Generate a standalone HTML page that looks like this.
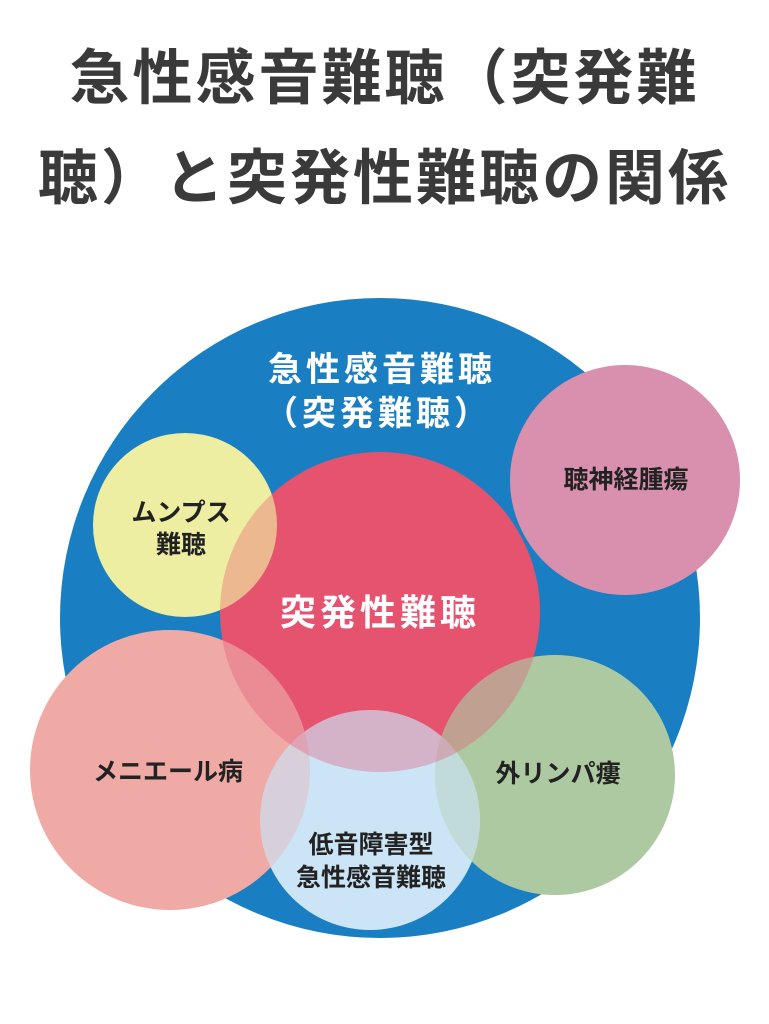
<!DOCTYPE html>
<html><head><meta charset="utf-8"><style>
html,body{margin:0;padding:0;background:#fff;}
body{width:769px;height:1024px;position:relative;overflow:hidden;font-family:"Liberation Sans","Noto Sans CJK JP",sans-serif;}
.t{position:absolute;left:0;width:769px;text-align:center;font-weight:bold;color:#3a3a3a;font-size:60px;letter-spacing:3px;}
</style></head><body>
<div class="t" style="top:30px;">急性感音難聴（突発難</div>
<div class="t" style="top:130px;">聴）と突発性難聴の関係</div>
<svg width="769" height="1024" style="position:absolute;left:0;top:0" font-family="Liberation Sans, Noto Sans CJK JP, sans-serif" font-weight="bold">
<defs>
<clipPath id="lb"><circle cx="370" cy="820" r="110"/></clipPath>
</defs>
<circle cx="380" cy="618" r="320" fill="#1a7fc2"/>
<circle cx="380" cy="612" r="160" fill="#e5536f"/>
<circle cx="185" cy="525" r="92" fill="#eeeea2"/>
<circle cx="625" cy="480" r="115" fill="#d890ae"/>
<circle cx="170" cy="770" r="140" fill="#efaaa6"/>
<circle cx="555" cy="775" r="120" fill="#adc9a2"/>
<circle cx="370" cy="820" r="110" fill="#cbe5f6"/>
<g clip-path="url(#lb)" opacity="0.35">
<circle cx="170" cy="770" r="140" fill="#efaaa6"/>
<circle cx="555" cy="775" r="120" fill="#adc9a2"/>
</g>
<circle cx="380" cy="612" r="160" fill="#e5536f" opacity="0.35"/>
<g fill="#fff" font-size="34" text-anchor="middle" letter-spacing="4">
<text x="382" y="381">急性感音難聴</text>
<text x="378" y="425">（突発難聴）</text>
<text x="380" y="625" font-size="36">突発性難聴</text>
</g>
<g fill="#222" font-size="25" text-anchor="middle">
<text x="181" y="521">ムンプス</text>
<text x="181" y="553">難聴</text>
<text x="626" y="488">聴神経腫瘍</text>
<text x="168" y="780">メニエール病</text>
<text x="558" y="782">外リンパ瘻</text>
<text x="371" y="853">低音障害型</text>
<text x="371" y="886">急性感音難聴</text>
</g>
</svg>
</body></html>
